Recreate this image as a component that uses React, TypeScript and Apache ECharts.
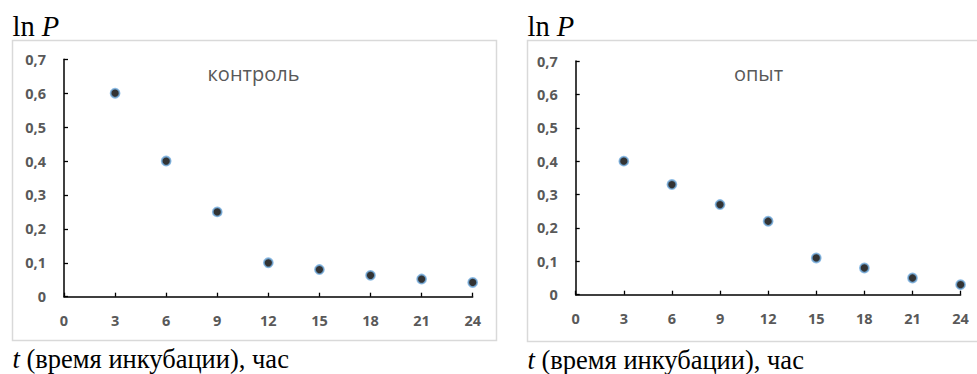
import React, { useEffect, useRef } from "react";
import * as echarts from "echarts";

const hours = [3, 6, 9, 12, 15, 18, 21, 24];
const controlLnP = [0.6, 0.4, 0.25, 0.1, 0.08, 0.063, 0.052, 0.042];
const experimentLnP = [0.4, 0.33, 0.27, 0.22, 0.11, 0.08, 0.05, 0.03];
const panelTitles = ["контроль", "опыт"];

const W = 977;
const H = 374;

export default function App() {
  const ref = useRef<HTMLDivElement>(null);
  useEffect(() => {
    if (!ref.current) return;
    const chart = echarts.init(ref.current, null, { renderer: "svg", width: W, height: H });
    const grids = [
      { left: 64, top: 59.3, width: 408.7, height: 237.4 },
      { left: 575.7, top: 61, width: 384.9, height: 233.7 },
    ];
    const labelColor = "#595959";
    const xAxes = grids.map((_, i) => ({
      type: "value",
      gridIndex: i,
      min: 0,
      max: 24,
      interval: 3,
      axisLine: { show: true, onZero: false, lineStyle: { color: "#000", width: 1.5 } },
      axisTick: { show: true, inside: true, length: 4, lineStyle: { color: "#000", width: 1.3 } },
      splitLine: { show: false },
      axisLabel: {
        color: labelColor,
        fontFamily: "Open Sans",
        fontWeight: "bold",
        fontSize: 14.5,
        margin: 16,
      },
    }));
    const yAxes = grids.map((_, i) => ({
      type: "value",
      gridIndex: i,
      min: 0,
      max: 0.7,
      interval: 0.1,
      axisLine: { show: true, lineStyle: { color: "#000", width: 1.5 } },
      axisTick: { show: true, inside: true, length: 4, lineStyle: { color: "#000", width: 1.3 } },
      splitLine: { show: false },
      axisLabel: {
        color: labelColor,
        fontFamily: "Open Sans",
        fontWeight: "bold",
        fontSize: 14.5,
        margin: 18,
        formatter: (v: number) => (v === 0 ? "0" : v.toFixed(1).replace(".", ",")),
      },
    }));
    const seriesData = [controlLnP, experimentLnP];
    const series = seriesData.map((vals, i) => ({
      type: "scatter",
      xAxisIndex: i,
      yAxisIndex: i,
      symbol: "circle",
      symbolSize: 9,
      itemStyle: { color: "#000", borderColor: "#74aee0", borderWidth: 1.8 },
      data: hours.map((h, k) => [h, vals[k]]),
    }));
    const frames = [
      { x: 12.5, y: 40.5, width: 484, height: 300 },
      { x: 527.5, y: 40.5, width: 462, height: 301 },
    ];
    const graphic: any[] = [];
    frames.forEach((f, i) => {
      graphic.push({
        type: "rect",
        shape: f,
        style: { fill: "#fff", stroke: "#d9d9d9", lineWidth: 1.5 },
        z: -10,
        silent: true,
      });
      graphic.push({
        type: "text",
        x: f.x + f.width / 2 + (i === 0 ? -1 : 0),
        y: 73.5,
        style: {
          text: panelTitles[i],
          fill: labelColor,
          font: "20px 'Open Sans'",
          align: "center",
          verticalAlign: "middle",
        },
      });
      graphic.push({
        type: "text",
        x: f.x,
        y: 26,
        style: {
          text: "{a|ln }{b|P}",
          verticalAlign: "middle",
          rich: {
            a: { fontFamily: "Liberation Serif", fontSize: 28.5, fill: "#000" },
            b: { fontFamily: "Liberation Serif", fontSize: 28.5, fontStyle: "italic", fill: "#000" },
          },
        },
      });
      graphic.push({
        type: "text",
        x: f.x,
        y: 358.5 + (i === 0 ? 0 : 1),
        style: {
          text: "{b|t}{a| (время инкубации), час}",
          verticalAlign: "middle",
          rich: {
            a: { fontFamily: "Liberation Serif", fontSize: 26.5, fill: "#000" },
            b: { fontFamily: "Liberation Serif", fontSize: 26.5, fontStyle: "italic", fill: "#000" },
          },
        },
      });
    });
    chart.setOption({
      animation: false,
      backgroundColor: "#fff",
      grid: grids,
      xAxis: xAxes,
      yAxis: yAxes,
      series,
      graphic,
    });
    return () => chart.dispose();
  }, []);
  return (
    <div
      ref={ref}
      style={{ position: "absolute", left: 0, top: 0, width: W, height: H }}
    />
  );
}
